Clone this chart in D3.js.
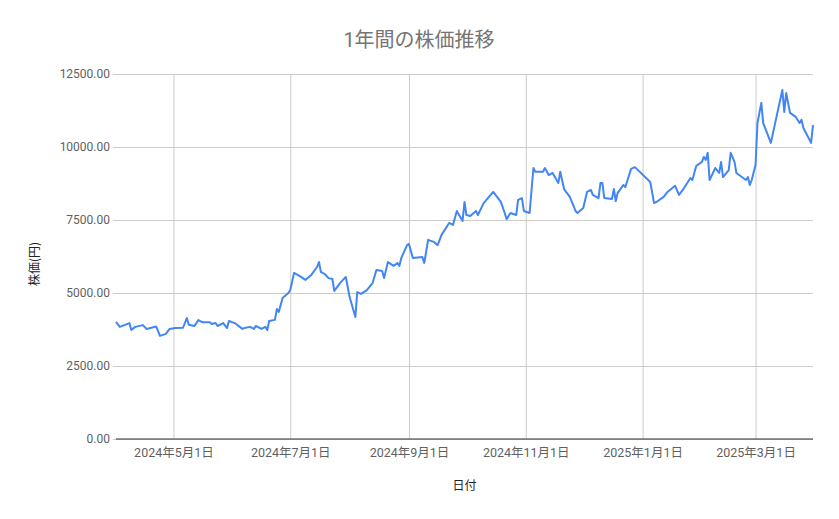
<!DOCTYPE html>
<html><head><meta charset="utf-8">
<script src="https://cdn.jsdelivr.net/npm/d3@7"></script>
<style>
html,body{margin:0;padding:0;background:#fff;}
svg{display:block;font-family:Roboto,"Noto Sans CJK JP",sans-serif;}
</style></head>
<body>
<svg id="chart" width="839" height="519"></svg>
<script>
const titleText = "1年間の株価推移";
const xAxisTitle = "日付";
const yAxisTitle = "株価(円)";
const yTicks = [0, 2500, 5000, 7500, 10000, 12500];
const xTickDates = ["2024-05-01","2024-07-01","2024-09-01","2024-11-01","2025-01-01","2025-03-01"];
const xTickLabels = ["2024年5月1日","2024年7月1日","2024年9月1日","2024年11月1日","2025年1月1日","2025年3月1日"];
const dates = [
"2024-04-01","2024-04-03","2024-04-08","2024-04-09","2024-04-11","2024-04-15","2024-04-17","2024-04-22","2024-04-24","2024-04-27",
"2024-04-29","2024-05-02","2024-05-06","2024-05-08","2024-05-09","2024-05-12","2024-05-14","2024-05-16","2024-05-20","2024-05-21",
"2024-05-23","2024-05-24","2024-05-27","2024-05-29","2024-05-30","2024-06-02","2024-06-06","2024-06-07","2024-06-10","2024-06-12",
"2024-06-13","2024-06-16","2024-06-18","2024-06-19","2024-06-20","2024-06-23","2024-06-24","2024-06-25","2024-06-27","2024-06-30",
"2024-07-01","2024-07-03","2024-07-06","2024-07-09","2024-07-12","2024-07-15","2024-07-16","2024-07-17","2024-07-19","2024-07-21",
"2024-07-23","2024-07-24","2024-07-27","2024-07-30","2024-08-01","2024-08-04","2024-08-05","2024-08-07","2024-08-10","2024-08-13",
"2024-08-15","2024-08-18","2024-08-19","2024-08-21","2024-08-24","2024-08-26","2024-08-27","2024-08-28","2024-08-31","2024-09-01",
"2024-09-03","2024-09-08","2024-09-09","2024-09-11","2024-09-14","2024-09-16","2024-09-18","2024-09-22","2024-09-24","2024-09-26",
"2024-09-29","2024-09-30","2024-10-01","2024-10-03","2024-10-06","2024-10-07","2024-10-10","2024-10-15","2024-10-19","2024-10-21",
"2024-10-22","2024-10-24","2024-10-27","2024-10-28","2024-10-30","2024-10-31","2024-11-03","2024-11-05","2024-11-06","2024-11-10",
"2024-11-11","2024-11-13","2024-11-15","2024-11-18","2024-11-19","2024-11-21","2024-11-24","2024-11-27","2024-11-28","2024-12-01",
"2024-12-03","2024-12-05","2024-12-06","2024-12-09","2024-12-10","2024-12-11","2024-12-12","2024-12-16","2024-12-17","2024-12-18",
"2024-12-19","2024-12-22","2024-12-23","2024-12-26","2024-12-28","2025-01-05","2025-01-07","2025-01-09","2025-01-12","2025-01-14",
"2025-01-18","2025-01-20","2025-01-22","2025-01-26","2025-01-27","2025-01-29","2025-02-01","2025-02-02","2025-02-03","2025-02-04",
"2025-02-05","2025-02-08","2025-02-10","2025-02-11","2025-02-12","2025-02-15","2025-02-16","2025-02-18","2025-02-19","2025-02-24",
"2025-02-25","2025-02-26","2025-02-27","2025-03-01","2025-03-02","2025-03-04","2025-03-05","2025-03-09","2025-03-11","2025-03-15",
"2025-03-16","2025-03-17","2025-03-19","2025-03-22","2025-03-24","2025-03-25","2025-03-26","2025-03-30","2025-03-31"
];
const prices = [
4010,3840,3970,3730,3840,3900,3770,3850,3530,3600,
3770,3800,3810,4140,3910,3870,4070,4000,4000,3940,
3970,3870,3970,3800,4040,3970,3770,3800,3840,3770,
3870,3770,3840,3730,4040,4080,4450,4350,4830,5000,
5100,5690,5580,5450,5620,5890,6060,5720,5650,5510,
5480,5070,5340,5550,4860,4180,5030,4970,5100,5340,
5790,5750,5510,6060,5930,6030,5930,6200,6640,6680,
6200,6230,6030,6820,6750,6640,6990,7400,7330,7810,
7470,8120,7670,7640,7810,7670,8080,8460,8120,7740,
7530,7740,7670,8190,8250,7810,7740,9280,9150,9150,
9280,9040,9110,8770,9150,8560,8290,7810,7740,7910,
8460,8530,8360,8250,8770,8770,8250,8220,8560,8150,
8430,8700,8630,9250,9310,8800,8080,8150,8290,8460,
8670,8360,8530,8940,8870,9350,9490,9660,9560,9800,
8870,9280,9110,9490,8970,9210,9800,9490,9110,8870,
8970,8700,8870,9390,10820,11510,10820,10140,10750,11950,
11200,11850,11170,11030,10820,10930,10650,10140,10750
];

const parse = d3.timeParse("%Y-%m-%d");
const data = dates.map((d,i)=>({date:parse(d), value:prices[i]}));

const W = 839, H = 519;
const m = {left:116, right:26, top:74, bottom:80};
const svg = d3.select("#chart");

const x = d3.scaleTime()
  .domain(d3.extent(data, d=>d.date))
  .range([m.left, W - m.right]);
const y = d3.scaleLinear()
  .domain([0, 12500])
  .range([H - m.bottom, m.top]);

// horizontal gridlines + y labels
const yAxis = d3.axisLeft(y).tickValues(yTicks).tickSize(-(W - m.left - m.right)).tickPadding(6)
  .tickFormat(d3.format(".2f"));
const gy = svg.append("g").attr("transform", `translate(${m.left},0)`).call(yAxis);
gy.select(".domain").remove();
gy.selectAll(".tick line").attr("stroke", "#cccccc").attr("stroke-width", 1)
  .attr("x1", -3);
gy.selectAll(".tick text").attr("fill", "#5f5f5f").attr("font-size", 12).attr("x", -6)
  .style("font-family", "Roboto, sans-serif");

// vertical gridlines + x labels
const tickDates = xTickDates.map(parse);
const xAxis = d3.axisBottom(x).tickValues(tickDates).tickSize(-(H - m.top - m.bottom)).tickPadding(9)
  .tickFormat((d,i)=>xTickLabels[i]);
const gx = svg.append("g").attr("transform", `translate(0,${H - m.bottom})`).call(xAxis);
gx.select(".domain").remove();
gx.selectAll(".tick line").attr("stroke", "#cccccc").attr("stroke-width", 1);
gx.selectAll(".tick text").attr("fill", "#5f5f5f").attr("font-size", 12.5)
  .style("font-family", "Roboto, 'Noto Sans CJK JP', sans-serif");

// baseline
svg.append("line")
  .attr("x1", m.left).attr("x2", W - m.right)
  .attr("y1", y(0)).attr("y2", y(0))
  .attr("stroke", "#333333").attr("stroke-width", 1);

// line
const line = d3.line().x(d=>x(d.date)).y(d=>y(d.value));
svg.append("path").datum(data)
  .attr("fill", "none")
  .attr("stroke", "#4285f4")
  .attr("stroke-width", 2)
  .attr("stroke-linejoin", "round")
  .attr("d", line);

// title
svg.append("text")
  .attr("x", 419).attr("y", 47)
  .attr("text-anchor", "middle")
  .attr("fill", "#757575")
  .attr("font-size", 20)
  .style("font-family", "Roboto, 'Noto Sans CJK JP', sans-serif")
  .text(titleText);

// x axis title
svg.append("text")
  .attr("x", (m.left + W - m.right)/2).attr("y", 490)
  .attr("text-anchor", "middle")
  .attr("fill", "#222222")
  .attr("font-size", 12)
  .style("font-family", "'Noto Sans CJK JP', sans-serif")
  .text(xAxisTitle);

// y axis title
svg.append("text")
  .attr("transform", `translate(39,264) rotate(-90)`)
  .attr("text-anchor", "middle")
  .attr("fill", "#222222")
  .attr("font-size", 12)
  .style("font-family", "'Noto Sans CJK JP', sans-serif")
  .text(yAxisTitle);
</script>
</body></html>
